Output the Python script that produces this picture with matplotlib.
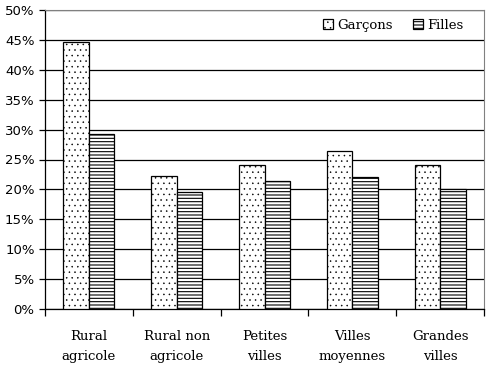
import numpy as np
import matplotlib.pyplot as plt
from matplotlib.ticker import FuncFormatter, FixedLocator

categories = ['Rural\nagricole', 'Rural non\nagricole', 'Petites\nvilles',
              'Villes\nmoyennes', 'Grandes\nvilles']
garcons = [44.6, 22.2, 24.0, 26.4, 24.0]
filles = [29.2, 19.6, 21.4, 22.1, 20.0]

plt.rcParams['hatch.linewidth'] = 0.8

fig = plt.figure(figsize=(4.95, 3.68), dpi=100)
ax = fig.add_axes([45 / 495, 1 - 309 / 368, 439 / 495, 299 / 368])

x = np.arange(len(categories))
w = 0.29
bars_g = ax.bar(x - w / 2, garcons, w, color='white', edgecolor='black', hatch='...',
                linewidth=0.9, label='Garçons', zorder=3)
bars_f = ax.bar(x + w / 2, filles, w, color='white', edgecolor='black', hatch='-----',
                linewidth=0.9, label='Filles', zorder=3)
# thinner dots for the boys' pattern
for b in bars_g:
    if hasattr(b, 'set_hatch_linewidth'):
        b.set_hatch_linewidth(0.35)

ax.set_xlim(-0.5, len(categories) - 0.5)
ax.set_ylim(0, 50)
ax.set_yticks(np.arange(0, 51, 5))
ax.yaxis.set_major_formatter(FuncFormatter(lambda v, p: '%d%%' % v))
ax.grid(axis='y', color='black', linewidth=0.9, zorder=0)

ax.set_xticks(x)
ax.set_xticklabels(categories, family='DejaVu Serif', fontsize=9.5, linespacing=1.75)
ax.tick_params(axis='x', which='major', length=0, pad=15)
ax.xaxis.set_minor_locator(FixedLocator(np.arange(-0.5, len(categories), 1)))
ax.tick_params(axis='x', which='minor', length=5, direction='out', width=0.9)
ax.tick_params(axis='y', length=4, direction='out', width=0.9, labelsize=9.5)

for s in ['top', 'right']:
    ax.spines[s].set_color('gray')
for s in ['left', 'bottom']:
    ax.spines[s].set_color('black')
    ax.spines[s].set_linewidth(0.9)

leg = ax.legend(loc='upper right', ncol=2, frameon=False,
                prop={'family': 'DejaVu Serif', 'size': 9.5},
                handlelength=0.8, handleheight=0.8, handletextpad=0.3,
                columnspacing=1.5, bbox_to_anchor=(0.98, 1.01))
for p in leg.get_patches()[:1]:
    if hasattr(p, 'set_hatch_linewidth'):
        p.set_hatch_linewidth(0.35)

fig.savefig('out.png', dpi=100)
